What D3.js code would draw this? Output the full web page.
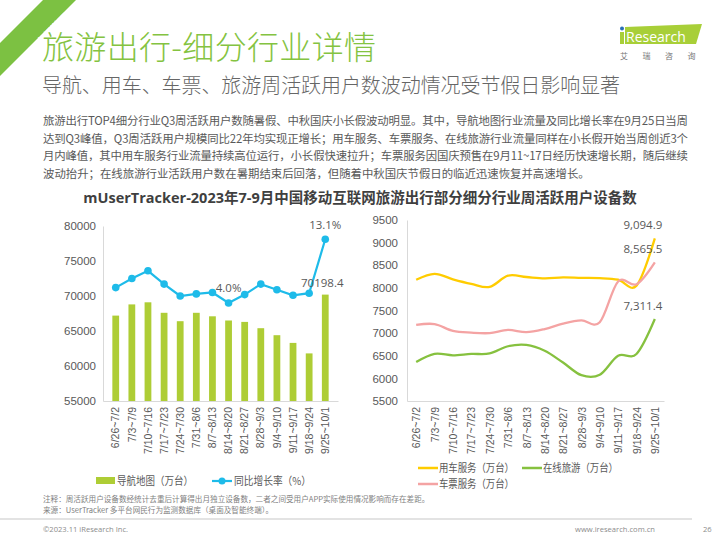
<!DOCTYPE html>
<html><head><meta charset="utf-8">
<script src="https://cdn.jsdelivr.net/npm/d3@7"></script>
<style>
html,body{margin:0;padding:0;background:#fff;}
svg{display:block;font-family:"Open Sans","Noto Sans CJK SC",sans-serif;}
</style></head>
<body>
<svg id="c" width="720" height="540"></svg>
<script>
const categories = ["6/26~7/2","7/3~7/9","7/10~7/16","7/17~7/23","7/24~7/30","7/31~8/6","8/7~8/13","8/14~8/20","8/21~8/27","8/28~9/3","9/4~9/10","9/11~9/17","9/18~9/24","9/25~10/1"];
const navValues = [67200, 68800, 69100, 67600, 66400, 67600, 67100, 66500, 66300, 65400, 64400, 63300, 61800, 70198.4];
const growthRate = [6.2, 7.5, 8.6, 6.7, 5.0, 5.3, 5.5, 4.0, 5.2, 6.7, 5.9, 5.1, 5.4, 13.1];
const carService = [8180, 8310, 8190, 8090, 8020, 8270, 8240, 8210, 8230, 8220, 8215, 8180, 8050, 9094.9];
const ticketService = [7180, 7200, 7050, 7010, 7000, 7070, 7020, 7090, 7210, 7280, 7240, 8140, 8080, 8565.5];
const onlineTravel = [6360, 6540, 6510, 6540, 6550, 6710, 6740, 6610, 6350, 6070, 6080, 6500, 6540, 7311.4];
const leftTicks = [55000, 60000, 65000, 70000, 75000, 80000];
const rightTicks = [5500, 6000, 6500, 7000, 7500, 8000, 8500, 9000, 9500];
const paragraph = [
 "旅游出行TOP4细分行业Q3周活跃用户数随暑假、中秋国庆小长假波动明显。其中，导航地图行业流量及同比增长率在9月25日当周",
 "达到Q3峰值，Q3周活跃用户规模同比22年均实现正增长；用车服务、车票服务、在线旅游行业流量同样在小长假开始当周创近3个",
 "月内峰值，其中用车服务行业流量持续高位运行，小长假快速拉升；车票服务因国庆预售在9月11~17日经历快速增长期，随后继续",
 "波动抬升；在线旅游行业活跃用户数在暑期结束后回落，但随着中秋国庆节假日的临近迅速恢复并高速增长。"
];

const svg = d3.select("#c");
const GREEN = "#84c341", GREY = "#595959";
svg.append("rect").attr("width",720).attr("height",540).attr("fill","#fff");

// corner ribbon
svg.append("path").attr("d","M43,0 L76,0 L0,76 L0,43 Z").attr("fill","#7cc142");
svg.append("text").attr("transform","translate(33,55) rotate(-45)")
  .attr("font-size",10.5).attr("fill","#fff").attr("font-family","Noto Sans CJK SC").text("2. 出行游玩");

// titles
svg.append("text").attr("x",42).attr("y",59).attr("font-size",32).attr("fill",GREEN).attr("font-weight",300)
  .attr("font-family","Noto Sans CJK SC").attr("textLength",334).text("旅游出行-细分行业详情");
svg.append("text").attr("x",42).attr("y",93).attr("font-size",20).attr("fill","#666").attr("font-weight",300)
  .attr("font-family","Noto Sans CJK SC").attr("textLength",578).text("导航、用车、车票、旅游周活跃用户数波动情况受节假日影响显著");

// logo
svg.append("path").attr("d","M625,27 L702,24 L696,44 L625,44 Z").attr("fill","#a8cf38");
svg.append("rect").attr("x",620).attr("y",32).attr("width",4).attr("height",12).attr("fill","#a8cf38");
svg.append("circle").attr("cx",622).attr("cy",28.5).attr("r",2).attr("fill","#2a6fb5");
svg.append("text").attr("x",626).attr("y",42).attr("font-size",14).attr("fill","#fff")
  .attr("font-family","Open Sans").text("Research");
svg.append("text").attr("x",620).attr("y",59).attr("font-size",8).attr("fill","#777")
  .attr("font-family","Noto Sans CJK SC").attr("letter-spacing",14.5).text("艾瑞咨询");

// paragraph
svg.append("g").selectAll("text").data(paragraph).join("text")
  .attr("x",43).attr("y",(d,i)=>125+i*17.7).attr("font-size",11.4).attr("fill",GREY)
  .attr("font-family","Noto Sans CJK SC").attr("textLength",(d,i)=>i<3?645:null)
  .text(d=>d);

// chart title
svg.append("text").attr("x",360).attr("y",203).attr("text-anchor","middle").attr("font-size",14.5)
  .attr("font-weight","bold").attr("fill","#3f3f3f").text("mUserTracker-2023年7-9月中国移动互联网旅游出行部分细分行业周活跃用户设备数");

// ===== left chart =====
const L = {x0:103, x1:338, y0:401, y1:226};
const xL = d3.scaleBand().domain(categories).range([L.x0,L.x1]).padding(0.58);
const yL = d3.scaleLinear().domain([55000,80000]).range([L.y0,L.y1]);
const yR = d3.scaleLinear().domain([-10,15]).range([L.y0,L.y1]);
const gL = svg.append("g");
const axL = gL.append("g").attr("transform",`translate(${L.x0},0)`)
  .call(d3.axisLeft(yL).tickValues(leftTicks).tickSize(0).tickPadding(7).tickFormat(d3.format("d")));
axL.select(".domain").attr("stroke","#d9d9d9");
axL.selectAll("text").attr("font-size",11.5).attr("fill",GREY);
gL.selectAll("rect.bar").data(navValues).join("rect").attr("class","bar")
  .attr("x",(d,i)=>xL(categories[i])).attr("width",xL.bandwidth())
  .attr("y",d=>yL(d)).attr("height",d=>L.y0-yL(d)).attr("fill","#aecd35");
const bxL = gL.append("g").attr("transform",`translate(0,${L.y0})`)
  .call(d3.axisBottom(xL).tickSize(0).tickPadding(0));
bxL.select(".domain").attr("stroke","#d9d9d9");
bxL.selectAll("text").attr("font-size",10.5).attr("fill",GREY)
  .attr("transform","rotate(-90)").attr("text-anchor","end").attr("dy","0.35em").attr("x",-6).attr("y",0);
const cx = (i)=>xL(categories[i])+xL.bandwidth()/2;
gL.append("path").datum(growthRate).attr("fill","none").attr("stroke","#1ebbe9").attr("stroke-width",2.2)
  .attr("d",d3.line().x((d,i)=>cx(i)).y(d=>yR(d)));
gL.selectAll("circle.pt").data(growthRate).join("circle").attr("class","pt")
  .attr("cx",(d,i)=>cx(i)).attr("cy",d=>yR(d)).attr("r",3.8).attr("fill","#1ebbe9");
gL.append("text").attr("x",cx(7)).attr("y",yR(growthRate[7])-11).attr("text-anchor","middle")
  .attr("font-size",11.5).attr("fill",GREY).text(growthRate[7].toFixed(1)+"%");
gL.append("text").attr("x",cx(13)).attr("y",yR(growthRate[13])-10).attr("text-anchor","middle")
  .attr("font-size",11.5).attr("fill",GREY).text(growthRate[13].toFixed(1)+"%");
gL.append("text").attr("x",cx(13)-3).attr("y",yL(navValues[13])-8).attr("text-anchor","middle")
  .attr("font-size",11.5).attr("fill",GREY).text(navValues[13].toFixed(1));
// left legend
gL.append("rect").attr("x",96).attr("y",477).attr("width",19).attr("height",7).attr("fill","#aecd35");
gL.append("text").attr("x",117).attr("y",485).attr("font-size",11).attr("fill",GREY)
  .attr("font-family","Noto Sans CJK SC").attr("textLength",76).attr("lengthAdjust","spacingAndGlyphs").text("导航地图（万台）");
gL.append("line").attr("x1",212).attr("x2",232).attr("y1",481).attr("y2",481).attr("stroke","#1ebbe9").attr("stroke-width",2.2);
gL.append("circle").attr("cx",222).attr("cy",481).attr("r",3.5).attr("fill","#1ebbe9");
gL.append("text").attr("x",234).attr("y",485).attr("font-size",11).attr("fill",GREY)
  .attr("font-family","Noto Sans CJK SC").attr("textLength",77).attr("lengthAdjust","spacingAndGlyphs").text("同比增长率（%）");

// ===== right chart =====
const R = {x0:407, x1:664, y0:401, y1:220};
const xR = d3.scalePoint().domain(categories).range([R.x0,R.x1]).padding(0.5);
const yRR = d3.scaleLinear().domain([5500,9500]).range([R.y0,R.y1]);
const gR = svg.append("g");
const axR = gR.append("g").attr("transform",`translate(${R.x0},0)`)
  .call(d3.axisLeft(yRR).tickValues(rightTicks).tickSize(0).tickPadding(9).tickFormat(d3.format("d")));
axR.select(".domain").attr("stroke","#d9d9d9");
axR.selectAll("text").attr("font-size",11.5).attr("fill",GREY);
const bxR = gR.append("g").attr("transform",`translate(0,${R.y0})`)
  .call(d3.axisBottom(xR).tickSize(0).tickPadding(0));
bxR.select(".domain").attr("stroke","#d9d9d9");
bxR.selectAll("text").attr("font-size",10.5).attr("fill",GREY)
  .attr("transform","rotate(-90)").attr("text-anchor","end").attr("dy","0.35em").attr("x",-6).attr("y",0);
const series = [
  {name:"用车服务（万台）", vals:carService, color:"#ffcc00"},
  {name:"车票服务（万台）", vals:ticketService, color:"#f4a3a3"},
  {name:"在线旅游（万台）", vals:onlineTravel, color:"#86c13f"}
];
const lineR = d3.line().x((d,i)=>xR(categories[i])).y(d=>yRR(d)).curve(d3.curveCatmullRom.alpha(0));
series.forEach(s=>{
  gR.append("path").datum(s.vals).attr("fill","none").attr("stroke",s.color).attr("stroke-width",2.3).attr("d",lineR);
});
const fmt = d3.format(",.1f");
[[carService,-9],[ticketService,-9],[onlineTravel,-9]].forEach(([v,dy])=>{
  gR.append("text").attr("x",xR(categories[13])-12).attr("y",yRR(v[13])+dy).attr("text-anchor","middle")
    .attr("font-size",11.5).attr("fill",GREY).text(fmt(v[13]));
});
// right legend
const leg = [{s:series[0],x:418,y:468},{s:series[2],x:522,y:468},{s:series[1],x:418,y:484}];
leg.forEach(l=>{
  gR.append("line").attr("x1",l.x).attr("x2",l.x+20).attr("y1",l.y).attr("y2",l.y).attr("stroke",l.s.color).attr("stroke-width",2.5);
  gR.append("text").attr("x",l.x+21).attr("y",l.y+4).attr("font-size",11).attr("fill",GREY)
    .attr("font-family","Noto Sans CJK SC").attr("textLength",75).attr("lengthAdjust","spacingAndGlyphs").text(l.s.name);
});

// notes & footer
svg.append("text").attr("x",43).attr("y",502).attr("font-size",7.6).attr("fill","#7f7f7f")
  .attr("font-family","Noto Sans CJK SC").text("注释：周活跃用户设备数经统计去重后计算得出月独立设备数，二者之间受用户APP实际使用情况影响而存在差距。");
svg.append("text").attr("x",43).attr("y",513).attr("font-size",7.6).attr("fill","#7f7f7f")
  .attr("font-family","Noto Sans CJK SC").text("来源：UserTracker 多平台网民行为监测数据库（桌面及智能终端）。");
svg.append("rect").attr("x",0).attr("y",518).attr("width",692).attr("height",2).attr("fill","#e3e3e3");
svg.append("text").attr("x",43).attr("y",532).attr("font-size",7.6).attr("fill","#8c8c8c").text("©2023.11 iResearch Inc.");
svg.append("text").attr("x",655).attr("y",532).attr("text-anchor","end").attr("font-size",7.6).attr("fill","#8c8c8c").text("www.iresearch.com.cn");
svg.append("text").attr("x",703).attr("y",532).attr("font-size",7.6).attr("fill","#8c8c8c").text("26");
</script>
</body></html>
